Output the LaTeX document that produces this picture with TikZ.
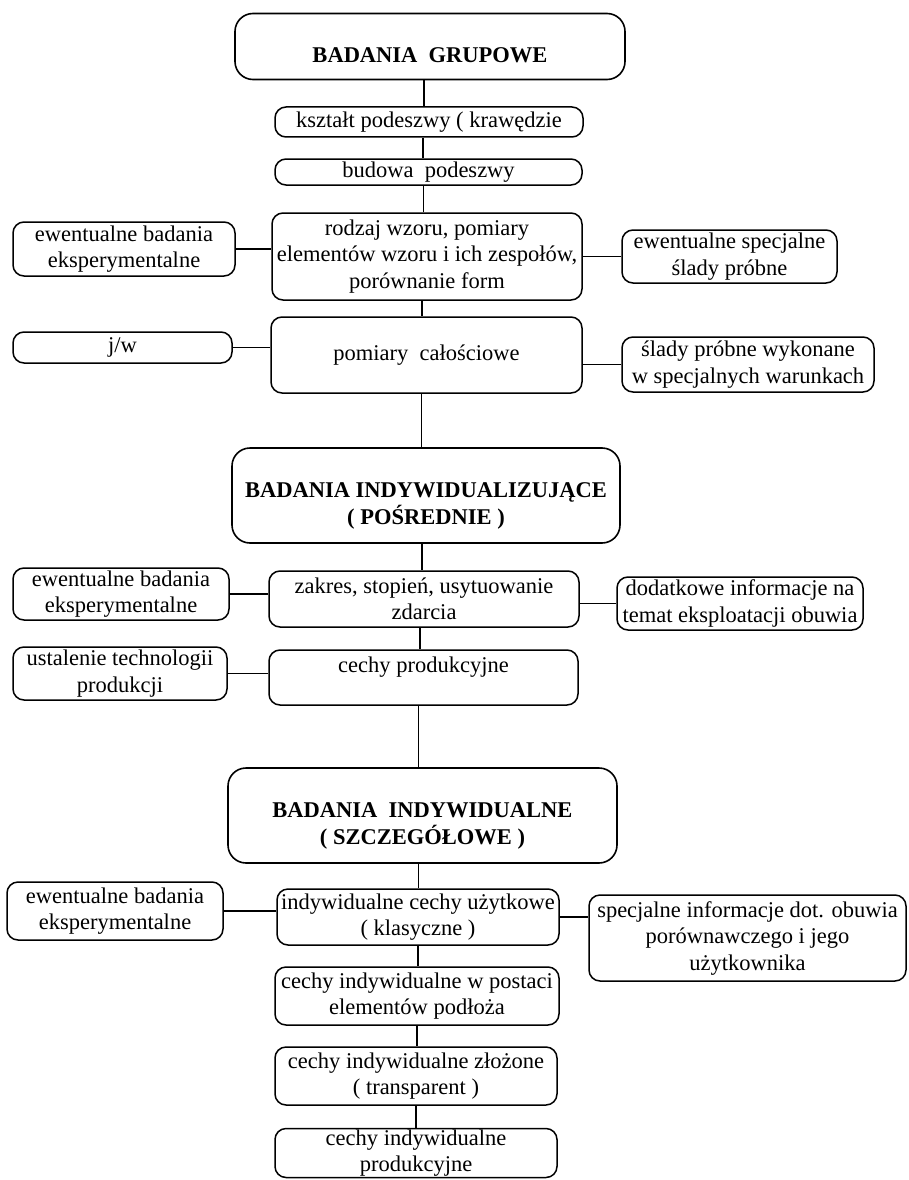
\documentclass[tikz,border=0pt]{standalone}
\usepackage{fontspec}
\setmainfont{Liberation Serif}
\begin{document}
\begin{tikzpicture}[x=1pt,y=-1pt,
  box/.style={draw, rounded corners=11pt, line width=1.5pt, align=center, inner sep=1pt,
    font=\fontsize{22.5}{26.5}\selectfont},
  hbox/.style={draw, rounded corners=18pt, line width=1.6pt},
  htext/.style={align=center, inner sep=0pt, font=\fontsize{22.5}{27}\selectfont\bfseries},
  conn/.style={line width=1.3pt}]
\useasboundingbox (0,0) rectangle (908,1180);

% ---- group examinations
\node[hbox, minimum width=390, minimum height=66] (g) at (430,46.5) {};
\node[htext] (gt) at (430,55) {BADANIA\ \ GRUPOWE};
\node[box, minimum width=308, minimum height=30] (k) at (429,122) {kształt podeszwy ( krawędzie};
\node[box, minimum width=307, minimum height=26] (b) at (428.5,172) {budowa\ \ podeszwy};
\node[box, minimum width=310, minimum height=87] (r) at (427,256.5) {rodzaj wzoru, pomiary\\elementów wzoru i ich zespołów,\\porównanie form};
\node[box, minimum width=222, minimum height=54] (rl) at (124,249) {ewentualne badania\\eksperymentalne};
\node[box, minimum width=215, minimum height=53] (rr) at (729.5,256.5) {ewentualne specjalne\\ślady próbne};
\node[box, minimum width=311, minimum height=76] (p) at (426.5,355) {pomiary\ \ całościowe};
\node[box, minimum width=219, minimum height=31] (pl) at (122.5,347.5) {j/w};
\node[box, minimum width=252, minimum height=55] (pr) at (748,364.5) {ślady próbne wykonane\\w specjalnych warunkach};

% ---- individualising examinations
\node[hbox, minimum width=388, minimum height=95] (i1) at (426,495.5) {};
\node[htext] (i1t) at (426,506) {BADANIA INDYWIDUALIZUJĄCE\\( POŚREDNIE )};
\node[box, minimum width=310, minimum height=56] (z) at (424,599) {zakres, stopień, usytuowanie\\zdarcia};
\node[box, minimum width=216, minimum height=52] (zl) at (121,594) {ewentualne badania\\eksperymentalne};
\node[box, minimum width=246, minimum height=53] (zr) at (740,603.5) {dodatkowe informacje na\\temat eksploatacji obuwia};
\node[box, minimum width=309, minimum height=55] (c) at (423.5,677.5) {cechy produkcyjne\\\mbox{}};
\node[box, minimum width=214, minimum height=53] (cl) at (120,673.5) {ustalenie technologii\\produkcji};

% ---- individual examinations
\node[hbox, minimum width=389, minimum height=95] (i2) at (422.5,815.5) {};
\node[htext] (i2t) at (422.5,826) {BADANIA\ \ INDYWIDUALNE\\( SZCZEGÓŁOWE )};
\node[box, minimum width=282, minimum height=56] (u) at (418,917) {indywidualne cechy użytkowe\\( klasyczne )};
\node[box, minimum width=216, minimum height=58] (ul) at (115,911) {ewentualne badania\\eksperymentalne};
\node[box, minimum width=317, minimum height=86] (ur) at (747.5,938) {specjalne informacje dot. obuwia\\porównawczego i jego\\użytkownika};
\node[box, minimum width=284, minimum height=58] (e1) at (417,996) {cechy indywidualne w postaci\\elementów podłoża};
\node[box, minimum width=282, minimum height=58] (e2) at (416,1076) {cechy indywidualne złożone\\( transparent )};
\node[box, minimum width=282, minimum height=49] (e3) at (416,1153) {cechy indywidualne\\produkcyjne};

% ---- vertical connectors
\draw[conn] ([xshift=-6pt]g.south) -- ([xshift=-6pt]g.south |- k.north);
\draw[conn] ([xshift=-6pt]k.south) -- ([xshift=-6pt]k.south |- b.north);
\draw[conn] ([xshift=-5pt]b.south) -- ([xshift=-5pt]b.south |- r.north);
\draw[conn] ([xshift=-5pt]r.south) -- ([xshift=-5pt]r.south |- p.north);
\draw[conn] ([xshift=-5pt]p.south) -- ([xshift=-5pt]p.south |- i1.north);
\draw[conn] ([xshift=-4pt]i1.south) -- ([xshift=-4pt]i1.south |- z.north);
\draw[conn] ([xshift=-4pt]z.south) -- ([xshift=-4pt]z.south |- c.north);
\draw[conn] ([xshift=-5pt]c.south) -- ([xshift=-5pt]c.south |- i2.north);
\draw[conn] ([xshift=-4pt]i2.south) -- ([xshift=-4pt]i2.south |- u.north);
\draw[conn] (u.south) -- (u.south |- e1.north);
\draw[conn] (e1.south) -- (e1.south |- e2.north);
\draw[conn] (e2.south) -- (e2.south |- e3.north);

% ---- horizontal connectors
\draw[conn] (rl.east) -- (rl.east -| r.west);
\draw[conn] (rr.west) -- (rr.west -| r.east);
\draw[conn] (pl.east) -- (pl.east -| p.west);
\draw[conn] (pr.west) -- (pr.west -| p.east);
\draw[conn] (zl.east) -- (zl.east -| z.west);
\draw[conn] (zr.west) -- (zr.west -| z.east);
\draw[conn] (cl.east) -- (cl.east -| c.west);
\draw[conn] (ul.east) -- (ul.east -| u.west);
\draw[conn] (u.east) -- (u.east -| ur.west);
\end{tikzpicture}
\end{document}
